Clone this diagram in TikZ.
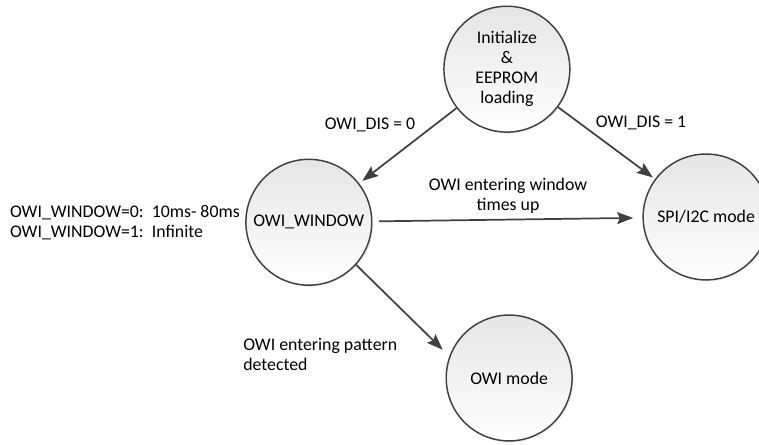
\documentclass[tikz,border=0pt]{standalone}
\usepackage{fontspec}
\setmainfont{Carlito}
\usepackage{tikz}
\usetikzlibrary{arrows.meta,shadows}

\begin{document}
\begin{tikzpicture}[
	zustand/.style={circle,draw=black!75,line width=1.1pt,minimum size=3.33cm,inner sep=0pt,
		top color=black!10,bottom color=white,align=center,
		drop shadow={shadow xshift=1.2pt,shadow yshift=-1.2pt,opacity=0.12}},
	pfeil/.style={line width=1.3pt,draw=black!75,-{Stealth[length=12pt,width=9pt,inset=2pt]}},
	txt/.style={inner sep=0pt,align=center},
	font=\fontsize{13.4}{15}\selectfont]
	%Rahmen
	\useasboundingbox (0,0) rectangle (20.08,11.75);
	% Zustaende zeichnen
	\node[zustand] (init) at (13.41,9.92) {Initialize\\\&\\EEPROM\\loading};
	\node[zustand] (owiwin) at (8.17,5.87) {OWI\_WINDOW};
	\node[zustand] (spi) at (18.68,6.01) {SPI/I2C mode};
	\node[zustand] (owimode) at (13.47,1.75) {OWI mode};
	%Uebergaenge
	\draw[pfeil,shorten >=3pt] (init) -- (owiwin);
	\draw[pfeil,shorten >=2pt] (init) -- (spi);
	\draw[pfeil,shorten <=5pt,shorten >=7pt] (owiwin) -- (spi);
	\draw[pfeil,shorten >=7pt] (owiwin.-42) -- (owimode.160);
	%Beschriftung
	\node[txt] (dis0) at (9.79,8.44) {OWI\_DIS = 0};
	\node[txt] (dis1) at (16.96,8.49) {OWI\_DIS = 1};
	\node[txt] (timeup) at (13.44,6.56) {OWI entering window\\times up};
	\node[txt,anchor=west,align=left] (pattern) at (6.43,2.38) {OWI entering pattern\\detected};
	\node[txt,anchor=west,align=left] (fenster) at (0.26,5.87) {OWI\_WINDOW=0:\ \ 10ms- 80ms\\OWI\_WINDOW=1:\ \ Infinite};
\end{tikzpicture}
\end{document}
